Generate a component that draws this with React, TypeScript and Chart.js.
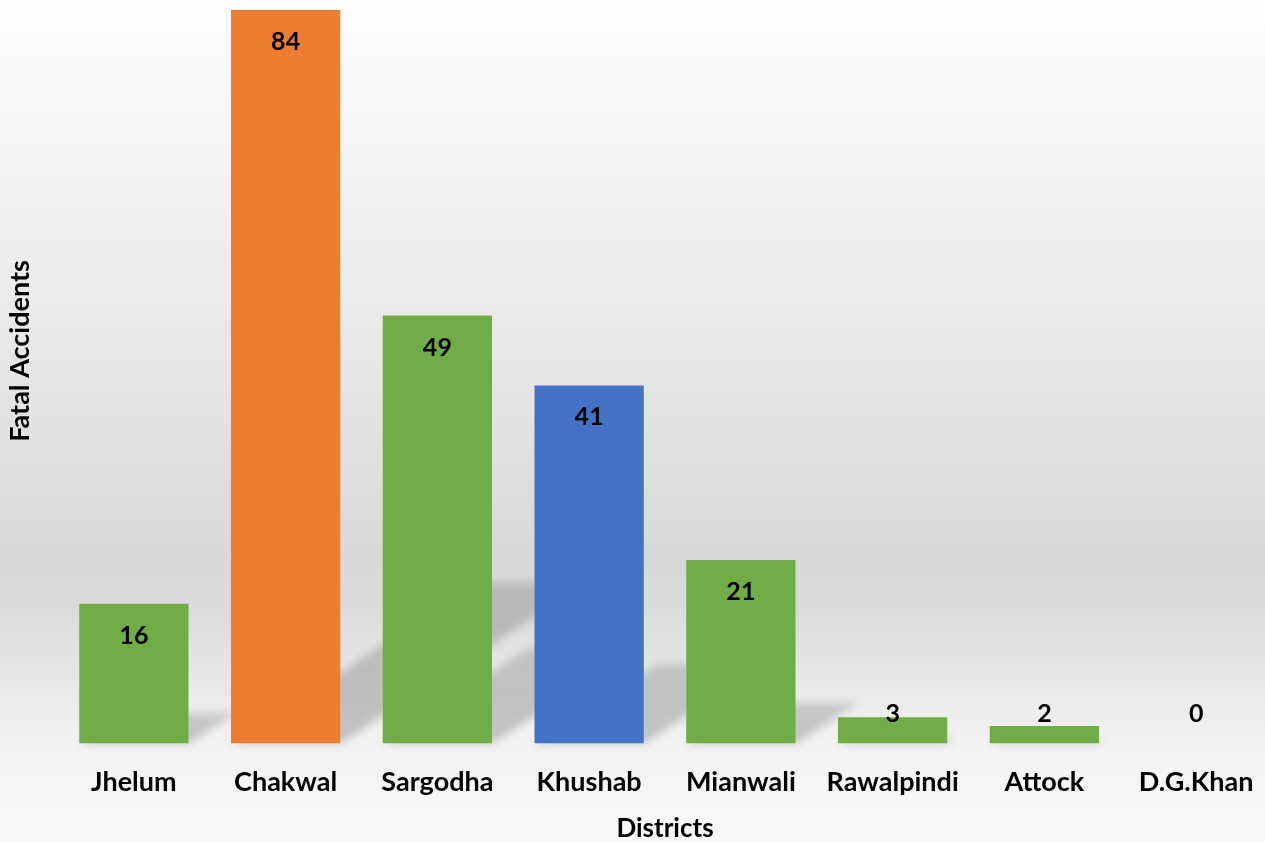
import React, { useEffect, useRef } from "react";
import { Chart, registerables } from "chart.js";

Chart.register(...registerables);

const districts = ["Jhelum", "Chakwal", "Sargodha", "Khushab", "Mianwali", "Rawalpindi", "Attock", "D.G.Khan"];
const fatalAccidents = [16, 84, 49, 41, 21, 3, 2, 0];
const barColors = ["#70AD47", "#ED7D31", "#70AD47", "#4472C4", "#70AD47", "#70AD47", "#70AD47", "#70AD47"];
const xTitle = "Districts";
const yTitle = "Fatal Accidents";
const yMax = 84;

const FONT = "Lato, 'Open Sans', 'DejaVu Sans', sans-serif";

const backgroundPlugin = {
  id: "bgGradient",
  beforeDraw(chart: any) {
    const { ctx, width, height } = chart;
    ctx.save();
    const g = ctx.createLinearGradient(0, 0, 0, height);
    g.addColorStop(0, "#ffffff");
    g.addColorStop(0.15, "#f6f6f6");
    g.addColorStop(0.45, "#e6e6e6");
    g.addColorStop(0.66, "#d8d8d8");
    g.addColorStop(0.72, "#dbdbdb");
    g.addColorStop(0.88, "#f2f2f2");
    g.addColorStop(1, "#fafafa");
    ctx.fillStyle = g;
    ctx.fillRect(0, 0, width, height);
    ctx.restore();
  },
};

const shadowPlugin = {
  id: "barShadows",
  beforeDatasetsDraw(chart: any) {
    const { ctx } = chart;
    const meta = chart.getDatasetMeta(0);
    ctx.save();
    ctx.filter = "blur(4px)";
    meta.data.forEach((el: any) => {
      const props = el.getProps(["x", "y", "base", "width"], true);
      const h = props.base - props.y;
      if (h <= 0) return;
      const L = props.x - props.width / 2;
      const R = props.x + props.width / 2;
      const B = props.base;
      const dy = h * 0.22;
      const dx = dy / 0.65;
      const g = ctx.createLinearGradient(0, B, 0, B - dy);
      g.addColorStop(0, "rgba(0,0,0,0.2)");
      g.addColorStop(1, "rgba(0,0,0,0.15)");
      ctx.fillStyle = g;
      ctx.beginPath();
      ctx.moveTo(L, B);
      ctx.lineTo(R, B);
      ctx.lineTo(R + dx, B - dy);
      ctx.lineTo(L + dx, B - dy);
      ctx.closePath();
      ctx.fill();
    });
    ctx.restore();
  },
};

const labelPlugin = {
  id: "valueLabels",
  afterDatasetsDraw(chart: any) {
    const { ctx } = chart;
    const meta = chart.getDatasetMeta(0);
    const data = chart.data.datasets[0].data;
    ctx.save();
    ctx.font = `bold 25px ${FONT}`;
    ctx.fillStyle = "#000000";
    ctx.textAlign = "center";
    ctx.textBaseline = "middle";
    meta.data.forEach((el: any, i: number) => {
      const props = el.getProps(["x", "y", "base"], true);
      const y = Math.min(props.y + 32, props.base - 29);
      ctx.fillText(String(data[i]), props.x, y);
    });
    ctx.restore();
  },
};

const yTitlePlugin = {
  id: "yTitle",
  afterDraw(chart: any) {
    const { ctx } = chart;
    ctx.save();
    ctx.font = `bold 27px ${FONT}`;
    ctx.fillStyle = "#000000";
    ctx.textAlign = "center";
    ctx.textBaseline = "middle";
    ctx.translate(20, 351);
    ctx.rotate(-Math.PI / 2);
    ctx.fillText(yTitle, 0, 0);
    ctx.restore();
  },
};

export default function App() {
  const canvasRef = useRef<HTMLCanvasElement | null>(null);

  useEffect(() => {
    document.body.style.margin = "0";
    document.body.style.overflow = "hidden";
    document.documentElement.style.overflow = "hidden";
    const canvas = canvasRef.current;
    if (!canvas) return;
    const chart = new Chart(canvas, {
      type: "bar",
      data: {
        labels: districts,
        datasets: [
          {
            label: yTitle,
            data: fatalAccidents,
            backgroundColor: barColors,
            borderWidth: 0,
            categoryPercentage: 1,
            barPercentage: 0.72,
          },
        ],
      },
      options: {
        responsive: false,
        maintainAspectRatio: false,
        animation: false,
        devicePixelRatio: 1,
        layout: { padding: { left: 58, right: 8, top: 10, bottom: 0 } },
        plugins: {
          legend: { display: false },
          tooltip: { enabled: false },
        },
        scales: {
          x: {
            grid: { display: false, drawTicks: false },
            border: { display: false },
            ticks: {
              color: "#000000",
              font: { family: FONT, size: 27, weight: "bold" },
              padding: 23,
              maxRotation: 0,
              autoSkip: false,
            },
            title: {
              display: true,
              text: xTitle,
              color: "#000000",
              font: { family: FONT, size: 26, weight: "bold" },
              padding: { top: -9, bottom: -2 },
            },
          },
          y: {
            display: false,
            min: 0,
            max: yMax,
          },
        },
      },
      plugins: [backgroundPlugin, shadowPlugin, labelPlugin, yTitlePlugin],
    });
    return () => chart.destroy();
  }, []);

  return (
    <div style={{ position: "fixed", left: 0, top: 0, width: 1280, height: 842 }}>
      <canvas ref={canvasRef} width={1280} height={842} style={{ width: 1280, height: 842, display: "block" }} />
    </div>
  );
}
